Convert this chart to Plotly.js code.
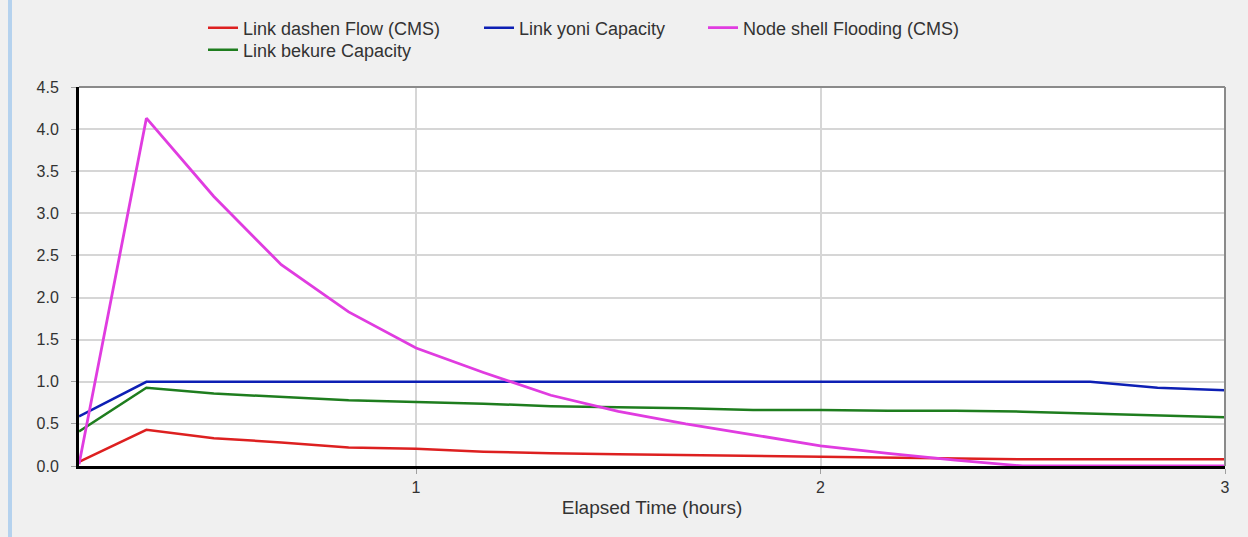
<!DOCTYPE html>
<html>
<head>
<meta charset="utf-8">
<script src="https://cdn.plot.ly/plotly-3.0.1.min.js"></script>
<style>
  html, body { margin: 0; padding: 0; background: #f0f0f0; }
  #chart { width: 1248px; height: 537px; }
</style>
</head>
<body>
<div id="chart"></div>
<script>
// Elapsed time (hours), 10-minute reporting steps
const timeHours = [0.1667, 0.3333, 0.5, 0.6667, 0.8333, 1.0, 1.1667, 1.3333, 1.5,
                   1.6667, 1.8333, 2.0, 2.1667, 2.3333, 2.5, 2.6667, 2.8333, 3.0];

const dashenFlow = [0.05, 0.43, 0.33, 0.28, 0.22, 0.205, 0.17, 0.15, 0.14,
                    0.13, 0.115, 0.11, 0.10, 0.09, 0.08, 0.08, 0.08, 0.08];

const yoniCapacity = [0.59, 1.0, 1.0, 1.0, 1.0, 1.0, 1.0, 1.0, 1.0,
                      1.0, 1.0, 1.0, 1.0, 1.0, 1.0, 1.0, 0.93, 0.90];

const shellFlooding = [0.02, 4.13, 3.20, 2.39, 1.83, 1.40, 1.11, 0.84, 0.65,
                       0.50, 0.37, 0.24, 0.15, 0.07, 0.0, 0.0, 0.0, 0.0];

const bekureCapacity = [0.41, 0.93, 0.86, 0.82, 0.78, 0.76, 0.74, 0.71, 0.70,
                        0.685, 0.665, 0.665, 0.655, 0.655, 0.645, 0.625, 0.605, 0.58];

const seriesNames = ["Link dashen Flow (CMS)", "Link yoni Capacity",
                     "Node shell Flooding (CMS)", "Link bekure Capacity"];

const xTickVals = [1, 2, 3];
const xTickText = ["1", "2", "3"];
const yTickVals = [0, 0.5, 1, 1.5, 2, 2.5, 3, 3.5, 4, 4.5];

const FONT = "Liberation Sans, Arial, sans-serif";
const TXT = "#333333";

const traces = [
  { x: timeHours, y: dashenFlow, name: seriesNames[0], legend: "legend",
    mode: "lines", line: { color: "#dd2020", width: 2.5 } },
  { x: timeHours, y: bekureCapacity, name: seriesNames[3], legend: "legend4",
    mode: "lines", line: { color: "#1e7d1e", width: 2.5 } },
  { x: timeHours, y: yoniCapacity, name: seriesNames[1], legend: "legend2",
    mode: "lines", line: { color: "#0d1fb4", width: 2.5 } },
  { x: timeHours, y: shellFlooding, name: seriesNames[2], legend: "legend3",
    mode: "lines", line: { color: "#e03ce0", width: 2.8 } }
];

const legendBase = {
  orientation: "v", yanchor: "middle", xanchor: "left",
  bgcolor: "rgba(0,0,0,0)", borderwidth: 0,
  font: { family: FONT, size: 18, color: TXT },
  tracegroupgap: 0, traceorder: "normal"
};

// plot area: x 79..1225 px, y 87..466 px
const px2x = p => (p - 79) / 1146;
const py2y = p => (466 - p) / 379;

const layout = {
  width: 1248, height: 537,
  paper_bgcolor: "#f0f0f0",
  plot_bgcolor: "#ffffff",
  margin: { l: 79, r: 23, t: 87, b: 71, autoexpand: false },
  showlegend: true,
  legend:  Object.assign({}, legendBase, { x: px2x(203), y: py2y(28) }),
  legend4: Object.assign({}, legendBase, { x: px2x(203), y: py2y(50) }),
  legend2: Object.assign({}, legendBase, { x: px2x(479), y: py2y(28) }),
  legend3: Object.assign({}, legendBase, { x: px2x(703), y: py2y(28) }),
  xaxis: {
    range: [0.1667, 3],
    tickvals: xTickVals, ticktext: xTickText,
    showgrid: true, gridcolor: "#d6d6d6", gridwidth: 2,
    zeroline: false,
    showline: true, linecolor: "#000000", linewidth: 3, mirror: false,
    ticks: "outside", ticklen: 5, tickcolor: "#a0a0a0", tickwidth: 1,
    tickfont: { family: FONT, size: 16, color: TXT },
    title: { text: "Elapsed Time (hours)", font: { family: FONT, size: 19, color: TXT }, standoff: 6 },
    fixedrange: true
  },
  yaxis: {
    range: [0, 4.5],
    tickvals: yTickVals, tickformat: ".1f",
    showgrid: true, gridcolor: "#d6d6d6", gridwidth: 2,
    zeroline: false,
    showline: true, linecolor: "#000000", linewidth: 3, mirror: false,
    ticks: "outside", ticklen: 5, tickcolor: "#a0a0a0", tickwidth: 1,
    ticklabelstandoff: 9,
    tickfont: { family: FONT, size: 16, color: TXT },
    fixedrange: true
  },
  shapes: [
    { type: "line", xref: "paper", yref: "paper", x0: 0, x1: 1, y0: 1, y1: 1,
      line: { color: "#8a8a8a", width: 2 } },
    { type: "line", xref: "paper", yref: "paper", x0: 1, x1: 1, y0: 0, y1: 1,
      line: { color: "#8a8a8a", width: 2 } },
    { type: "line", xref: "paper", yref: "paper", x0: px2x(10), x1: px2x(10), y0: py2y(540), y1: py2y(-3),
      line: { color: "#b5d2ee", width: 4 } }
  ]
};

Plotly.newPlot("chart", traces, layout, { displayModeBar: false, staticPlot: true });
</script>
</body>
</html>
